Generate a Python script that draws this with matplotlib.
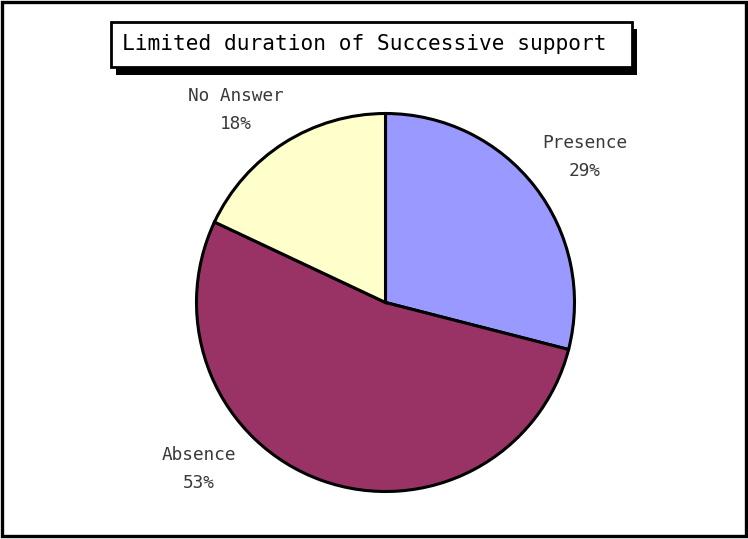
import matplotlib.pyplot as plt
from matplotlib.patches import Rectangle

# survey answers, in percent
names = ['Presence', 'Absence', 'No Answer']
shares = [29, 53, 18]
colours = ['#9999FF', '#993366', '#FFFFCC']
title = 'Limited duration of Successive support'

W, H = 748, 539
MONO = ['DejaVu Sans Mono']


def main():
    fig = plt.figure(figsize=(W / 100, H / 100), dpi=100)
    ax = fig.add_axes([0, 0, 1, 1])

    wedges, texts = ax.pie(shares, labels=[f'{n}\n{s}%' for n, s in zip(names, shares)],
                           colors=colours, startangle=90, counterclock=False,
                           center=(385.5, H - 302.5), radius=189, labeldistance=1.3,
                           wedgeprops=dict(edgecolor='black', linewidth=2.2),
                           textprops=dict(family=MONO, fontsize=12.8, color='#3a3a3a',
                                          linespacing=1.7))
    # label placement, pixel coords from the top left
    spots = [(585, 157), (199, 469), (236, 110)]
    for t, (x, y) in zip(texts, spots):
        t.set_position((x, H - y))
        t.set_ha('center')
        t.set_va('center')

    # title box with drop shadow
    ax.add_patch(Rectangle((116, H - 75), 521, 46, facecolor='black', edgecolor='none'))
    ax.add_patch(Rectangle((111, H - 67), 521, 45, facecolor='white', edgecolor='black',
                           linewidth=2))
    ax.text(364, H - 44, title, family=MONO, fontsize=15.2, ha='center', va='center',
            color='black')

    # outer frame
    ax.add_patch(Rectangle((2.5, 3.5), 743.5, 533.5, facecolor='none', edgecolor='black',
                           linewidth=2.4))

    ax.set_xlim(0, W)
    ax.set_ylim(0, H)
    ax.axis('off')
    fig.savefig('out.png', dpi=100)


if __name__ == '__main__':
    main()
